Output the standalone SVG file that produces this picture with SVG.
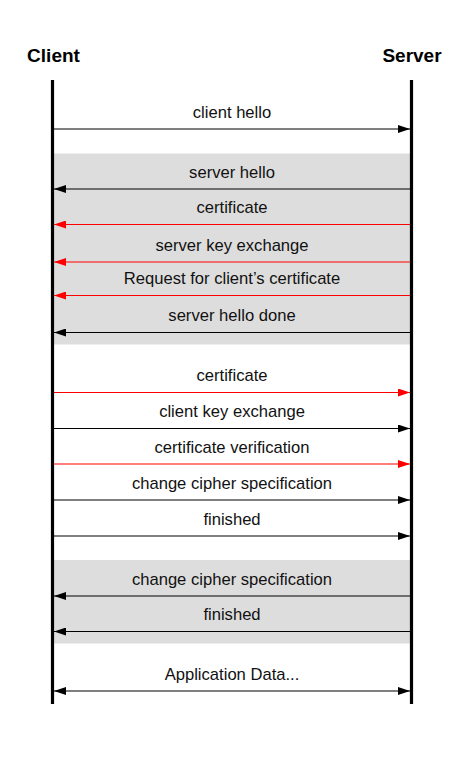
<svg xmlns="http://www.w3.org/2000/svg" width="458" height="760" viewBox="0 0 458 760">
  <style>
    .band { fill: #dddddd; }
    .life { stroke: #000; stroke-width: 3.2; }
    .head { font-family: "Liberation Sans", Arial, sans-serif; font-size: 19px; font-weight: bold; fill: #000; text-anchor: middle; }
    .lbl { font-family: "Liberation Sans", Arial, sans-serif; font-size: 16.6px; fill: #111; text-anchor: middle; }
    .blk { stroke: #000; stroke-width: 1.1; fill: none; marker-end: url(#ab); }
    .red { stroke: #ff0000; stroke-width: 1.1; fill: none; marker-end: url(#ar); }
  </style>
  <defs>
    <marker id="ab" viewBox="0 0 12 8" markerWidth="12" markerHeight="8" refX="12" refY="4" markerUnits="userSpaceOnUse" orient="auto-start-reverse">
      <path d="M0,0 L12,4 L0,8 z" fill="#000"/>
    </marker>
    <marker id="ar" viewBox="0 0 12 8" markerWidth="12" markerHeight="8" refX="12" refY="4" markerUnits="userSpaceOnUse" orient="auto">
      <path d="M0,0 L12,4 L0,8 z" fill="#ff0000"/>
    </marker>
  </defs>
  <rect width="458" height="760" fill="#fff"/>
  <g id="bands">
    <rect class="band" x="54" y="153.5" width="356" height="191"/>
    <rect class="band" x="54" y="560" width="356" height="83.5"/>
  </g>
  <g id="client">
    <text class="head" x="53.5" y="62">Client</text>
    <line class="life" x1="52.5" y1="80" x2="52.5" y2="704"/>
  </g>
  <g id="server">
    <text class="head" x="412" y="62">Server</text>
    <line class="life" x1="411.5" y1="80" x2="411.5" y2="704"/>
  </g>
  <g id="connectors">
    <line class="blk" x1="54" y1="129" x2="410" y2="129"/>
    <line class="blk" x1="410" y1="189" x2="54" y2="189"/>
    <line class="red" x1="410" y1="224.5" x2="54" y2="224.5"/>
    <line class="red" x1="410" y1="262" x2="54" y2="262"/>
    <line class="red" x1="410" y1="295.5" x2="54" y2="295.5"/>
    <line class="blk" x1="410" y1="332.5" x2="54" y2="332.5"/>
    <line class="red" x1="54" y1="392.5" x2="410" y2="392.5"/>
    <line class="blk" x1="54" y1="428.5" x2="410" y2="428.5"/>
    <line class="red" x1="54" y1="464" x2="410" y2="464"/>
    <line class="blk" x1="54" y1="500" x2="410" y2="500"/>
    <line class="blk" x1="54" y1="536" x2="410" y2="536"/>
    <line class="blk" x1="410" y1="596" x2="54" y2="596"/>
    <line class="blk" x1="410" y1="631.5" x2="54" y2="631.5"/>
    <line class="blk" x1="54" y1="691" x2="410" y2="691" marker-start="url(#ab)"/>
  </g>
  <g id="labels">
    <text class="lbl" x="232" y="117.5">client hello</text>
    <text class="lbl" x="232" y="177.5">server hello</text>
    <text class="lbl" x="232" y="213">certificate</text>
    <text class="lbl" x="232" y="250.5">server key exchange</text>
    <text class="lbl" x="232" y="284">Request for client’s certificate</text>
    <text class="lbl" x="232" y="321">server hello done</text>
    <text class="lbl" x="232" y="381">certificate</text>
    <text class="lbl" x="232" y="417">client key exchange</text>
    <text class="lbl" x="232" y="452.5">certificate verification</text>
    <text class="lbl" x="232" y="488.5">change cipher specification</text>
    <text class="lbl" x="232" y="524.5">finished</text>
    <text class="lbl" x="232" y="584.5">change cipher specification</text>
    <text class="lbl" x="232" y="620">finished</text>
    <text class="lbl" x="232" y="679.5">Application Data...</text>
  </g>
</svg>
